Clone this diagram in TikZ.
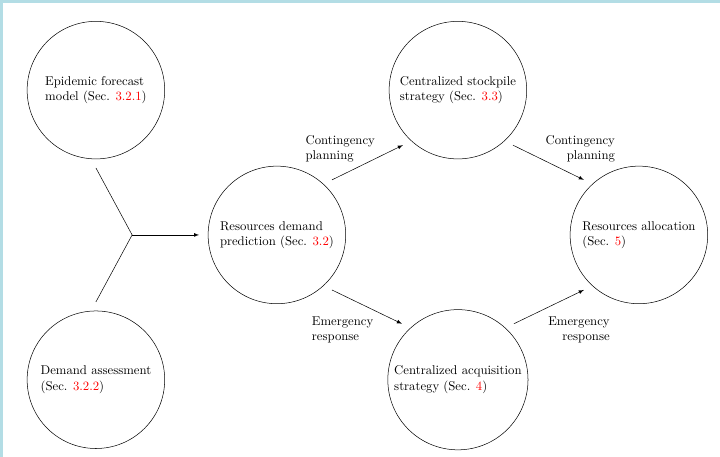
\documentclass[tikz,border=0pt]{standalone}
\usetikzlibrary{positioning,arrows.meta}
\usepackage{xcolor}
\definecolor{edgeblue}{HTML}{B3DDE5}

\begin{document}
\begin{tikzpicture}[
    node distance=4cm and 5cm, on grid,
    stage/.style={circle, draw, minimum size=3.8cm, align=left, outer sep=0.25cm},
    arrow/.style={->, >=latex},
]
    \useasboundingbox (-7.65,-6.13) rectangle (12.24,6.49);
    % screenshot frame
    \fill[edgeblue] (-7.65,6.40) rectangle (12.24,6.49);
    \fill[edgeblue] (-7.65,-6.13) rectangle (-7.56,6.49);

    \node[stage] (pred) {Resources demand\\prediction (Sec. \textcolor{red}{3.2})};
    \node[stage, above left=of pred] (epi) {Epidemic forecast\\model (Sec. \textcolor{red}{3.2.1})};
    \node[stage, below left=of pred] (assess) {Demand assessment\\(Sec. \textcolor{red}{3.2.2})};
    \node[stage, above right=of pred] (stock) {Centralized stockpile\\strategy (Sec. \textcolor{red}{3.3})};
    \node[stage, below right=of pred] (acq) {Centralized acquisition\\strategy (Sec. \textcolor{red}{4})};
    \node[stage, below right=of stock] (alloc) {Resources allocation\\(Sec. \textcolor{red}{5})};
    \coordinate[left=4cm of pred] (merge);

    \draw (epi.south) -- (merge);
    \draw (assess.north) -- (merge);
    \draw[arrow] (merge) -- (pred.west);

    \draw[arrow] (pred.45) -- node[midway, above left, align=left, xshift=0.33cm, yshift=-0.11cm] {Contingency\\planning} (stock.225);
    \draw[arrow] (pred.315) -- node[midway, below left, align=left, xshift=0.3cm, yshift=-0.14cm] {Emergency\\response} (acq.135);
    \draw[arrow] (stock.315) -- node[midway, above right, align=right, xshift=-0.2cm, yshift=-0.11cm] {Contingency\\planning} (alloc.135);
    \draw[arrow] (acq.45) -- node[midway, below right, align=right, xshift=-0.14cm, yshift=-0.14cm] {Emergency\\response} (alloc.225);
\end{tikzpicture}
\end{document}
